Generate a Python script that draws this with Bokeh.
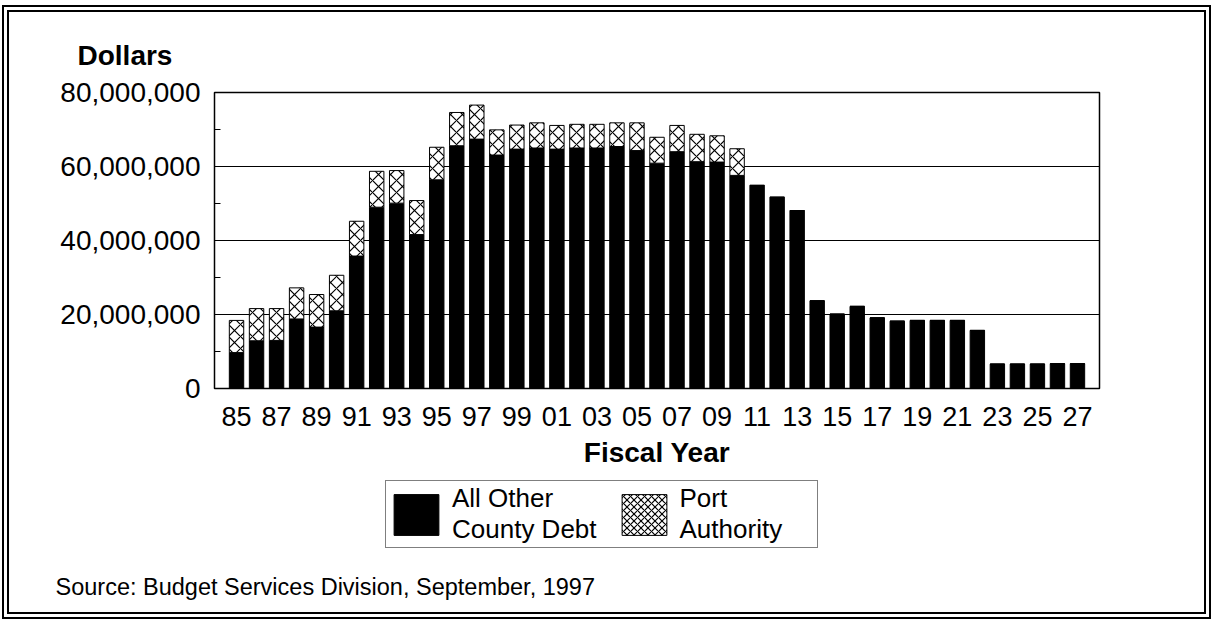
from bokeh.plotting import figure
from bokeh.layouts import column
from bokeh.models import (ColumnDataSource, FixedTicker, NumeralTickFormatter, Title,
                          Legend, LegendItem)
from bokeh.embed import file_html
from bokeh.resources import INLINE
from jinja2 import Template

# ---- data ----
years = ["85", "86", "87", "88", "89", "90", "91", "92", "93", "94", "95", "96", "97",
         "98", "99", "00", "01", "02", "03", "04", "05", "06", "07", "08", "09", "10",
         "11", "12", "13", "14", "15", "16", "17", "18", "19", "20", "21", "22", "23",
         "24", "25", "26", "27"]
other_debt_m = [9.7, 12.9, 13.0, 18.8, 16.6, 21.0, 35.8, 49.0, 50.1, 41.6, 56.4, 65.6, 67.4,
                63.1, 64.7, 65.0, 64.7, 65.0, 65.0, 65.4, 64.3, 60.9, 64.0, 61.3, 61.2, 57.6,
                54.9, 51.7, 48.1, 23.7, 20.1, 22.2, 19.1, 18.2, 18.4, 18.4, 18.4, 15.7, 6.6,
                6.6, 6.6, 6.7, 6.7]
port_authority_m = [8.7, 8.7, 8.6, 8.4, 8.8, 9.6, 9.4, 9.7, 8.8, 9.2, 8.8, 9.0, 9.2,
                    6.8, 6.5, 6.8, 6.4, 6.4, 6.4, 6.4, 7.5, 7.0, 7.1, 7.4, 7.1, 7.2,
                    0, 0, 0, 0, 0, 0, 0, 0, 0, 0, 0, 0, 0,
                    0, 0, 0, 0]
y_ticks = [0, 20_000_000, 40_000_000, 60_000_000, 80_000_000]
y_minor = [10_000_000, 30_000_000, 50_000_000, 70_000_000]
series_labels = ["All Other\nCounty Debt", "Port\nAuthority"]

FONT = "Liberation Sans"

idx = list(range(len(years)))
other = [v * 1e6 for v in other_debt_m]
port_top = [(a + b) * 1e6 for a, b in zip(other_debt_m, port_authority_m)]
src = ColumnDataSource(dict(x=idx, year=years, other=other, port_top=port_top))

W, H = 1212, 620
H1 = 480                      # height of the chart part
FL, FR, FT, FB = 214, 1099, 92, 388

BLACK = dict(fill_color="black", line_color="black")
HATCH = dict(fill_color="white", line_color="black", line_width=1,
             hatch_pattern="diagonal_cross", hatch_color="black", hatch_weight=1.2)

p = figure(width=W, height=H1, output_backend="svg", toolbar_location=None,
           x_range=(-1.1, len(years) + 0.1), y_range=(0, 80_000_000),
           min_border_left=FL, min_border_right=W - FR,
           min_border_top=FT, min_border_bottom=H1 - FB,
           background_fill_color="white", border_fill_color="white")
p.outline_line_color = "black"
p.outline_line_width = 1.5

p.vbar(x="x", top="other", bottom=0, width=0.72, source=src, **BLACK)
p.vbar(x="x", top="port_top", bottom="other", width=0.72, source=src,
       hatch_scale=12, **HATCH)

# grid
p.xgrid.grid_line_color = None
p.ygrid.grid_line_color = "black"
p.ygrid.grid_line_width = 1

# y axis
p.yaxis.ticker = FixedTicker(ticks=y_ticks, minor_ticks=y_minor)
p.yaxis.formatter = NumeralTickFormatter(format="0,0")
p.yaxis.axis_line_color = None
p.yaxis.major_tick_line_color = None
p.yaxis.minor_tick_line_color = "black"
p.yaxis.minor_tick_in = 6
p.yaxis.minor_tick_out = 0
p.yaxis.major_label_text_font = FONT
p.yaxis.major_label_text_font_size = "28px"
p.yaxis.major_label_text_color = "black"
p.yaxis.major_label_standoff = 8

# x axis
p.xaxis.ticker = FixedTicker(ticks=idx[::2])
p.xaxis.major_label_overrides = {i: years[i] for i in idx[::2]}
p.xaxis.axis_line_color = None
p.xaxis.major_tick_line_color = None
p.xaxis.minor_tick_line_color = None
p.xaxis.major_label_text_font = FONT
p.xaxis.major_label_text_font_size = "27px"
p.xaxis.major_label_text_color = "black"
p.xaxis.major_label_standoff = 12
p.xaxis.axis_label = "Fiscal Year"
p.xaxis.axis_label_text_font = FONT
p.xaxis.axis_label_text_font_size = "28px"
p.xaxis.axis_label_text_font_style = "bold"
p.xaxis.axis_label_text_color = "black"
p.xaxis.axis_label_standoff = 8

# "Dollars" heading
p.add_layout(Title(text="Dollars", align="left", offset=77 - FL, standoff=44,
                   text_font=FONT, text_font_size="28px", text_font_style="bold",
                   text_color="black"), "above")

# ---- lower strip: legend and source note ----
H2 = H - H1
QB = 60                       # space under the lower strip's frame
q = figure(width=W, height=H2, output_backend="svg", toolbar_location=None,
           x_range=(100, 101), y_range=(0, 80_000_000),
           x_axis_location=None, y_axis_location=None,
           min_border_left=0, min_border_right=0,
           min_border_top=0, min_border_bottom=QB,
           background_fill_color="white", border_fill_color="white")
q.outline_line_color = None
q.xgrid.grid_line_color = None
q.ygrid.grid_line_color = None
# legend-only renderers (hidden; they only supply the legend swatches)
k1 = q.vbar(x="x", top="other", width=0.72, source=src, visible=False, **BLACK)
k2 = q.vbar(x="x", top="port_top", width=0.72, source=src, visible=False,
            hatch_scale=7, **HATCH)

legend = Legend(items=[LegendItem(label=series_labels[0], renderers=[k1]),
                       LegendItem(label=series_labels[1], renderers=[k2])],
                orientation="horizontal", location=(385 - FL, (H - QB) - 548),
                glyph_width=56, glyph_height=51, label_standoff=8, spacing=19,
                label_width=135, padding=2, margin=0,
                label_text_font=FONT, label_text_font_size="26px",
                label_text_color="black",
                inactive_fill_alpha=0,
                border_line_color="black", border_line_width=1.5,
                background_fill_color="white", background_fill_alpha=1)
q.add_layout(legend)

q.add_layout(Title(text="Source:  Budget Services Division, September, 1997",
                   align="left", offset=55 - FL, standoff=22,
                   text_font=FONT, text_font_size="23.5px", text_font_style="normal",
                   text_color="black"), "below")

page = column(p, q, spacing=0)

# page frame (double rule round the whole exhibit)
tmpl = Template("""{% extends base %}
{% block postamble %}
<style>
body::after { content: ""; position: fixed; left: 2px; top: 5px; width: 1209px;
  height: 614px; box-sizing: border-box; border: 7px double black;
  pointer-events: none; z-index: 10; }
</style>
{% endblock %}""")

open("out.html", "w").write(file_html(page, INLINE, template=tmpl))
